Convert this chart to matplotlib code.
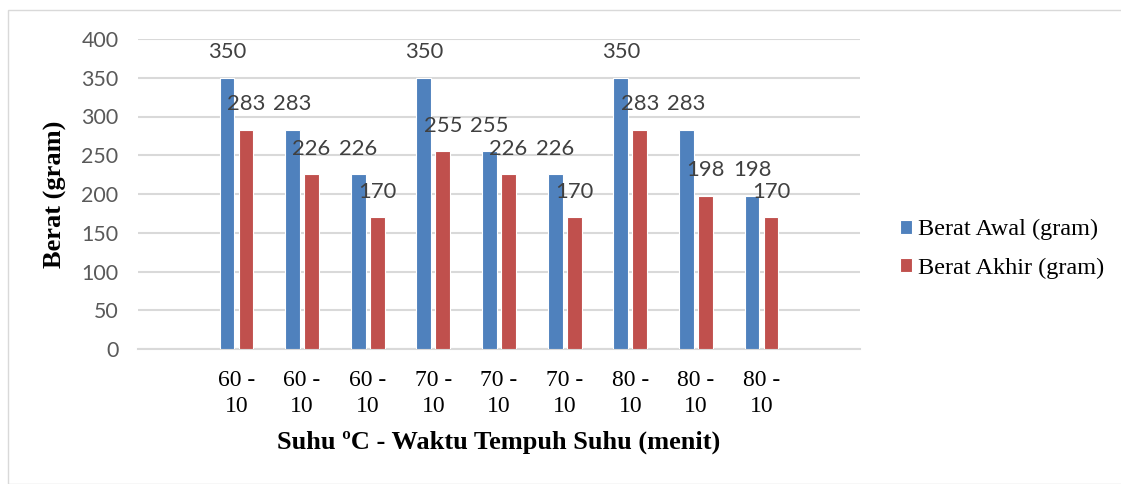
import matplotlib.pyplot as plt
import numpy as np
from matplotlib.patches import Rectangle

# slot 0 and slot 10 are empty categories in the original workbook
categories = ["", "60 -\n10", "60 -\n10", "60 -\n10", "70 -\n10", "70 -\n10",
              "70 -\n10", "80 -\n10", "80 -\n10", "80 -\n10", ""]
berat_awal = [np.nan, 350, 283, 226, 350, 255, 226, 350, 283, 198, np.nan]
berat_akhir = [np.nan, 283, 226, 170, 255, 226, 170, 283, 198, 170, np.nan]
series_names = ["Berat Awal (gram)", "Berat Akhir (gram)"]
yticks = [0, 50, 100, 150, 200, 250, 300, 350, 400]

BLUE = "#4F81BD"
RED = "#C0504D"
SANS = ["Lato", "DejaVu Sans"]
SERIF = ["Liberation Serif", "DejaVu Serif"]


def main() -> None:
    fig = plt.figure(figsize=(11.21, 4.84), dpi=100)
    fig.patches.append(Rectangle((8 / 1121, 0), 1.0, 1 - 10 / 484, transform=fig.transFigure,
                                 fill=False, edgecolor="#D9D9D9", linewidth=1.0))
    ax = fig.add_axes([138 / 1121, 1 - 349 / 484, 722 / 1121, 310 / 484])

    x = np.arange(len(categories))
    width = 0.225
    offset = 0.145
    for values, shift, color, name in ((berat_awal, -offset, BLUE, series_names[0]),
                                       (berat_akhir, offset, RED, series_names[1])):
        bars = ax.bar(x + shift, values, width, color=color, edgecolor="white",
                      linewidth=0.8, label=name, zorder=3)
        labels = ["" if np.isnan(v) else f"{v:.0f}" for v in values]
        ax.bar_label(bars, labels=labels, padding=11, fontsize=15.8, color="#404040",
                     family=SANS, zorder=4)

    ax.set_xlim(-0.5, len(categories) - 0.5)
    ax.set_ylim(0, 400)
    ax.set_yticks(yticks)
    ax.set_xticks(x)
    ax.set_xticklabels(categories, family=SERIF, fontsize=17, linespacing=1.32)
    ax.tick_params(axis="x", length=0, pad=15, colors="black")
    ax.tick_params(axis="y", length=0, pad=14, labelsize=15.4, labelcolor="#595959")
    for lab in ax.get_yticklabels():
        lab.set_family(SANS)

    ax.grid(axis="y", color="#D9D9D9", linewidth=1.5, zorder=0)
    for side in ("top", "right", "left"):
        ax.spines[side].set_visible(False)
    ax.spines["bottom"].set_color("#D9D9D9")
    ax.spines["bottom"].set_linewidth(1.5)

    ax.set_xlabel("Suhu ºC - Waktu Tempuh Suhu (menit)", family=SERIF, fontsize=19,
                  fontweight="bold", labelpad=10)
    ax.set_ylabel("Berat (gram)", family=SERIF, fontsize=19, fontweight="bold", labelpad=10)

    fig.legend(loc="center left", bbox_to_anchor=(900 / 1121, 1 - 249 / 484), frameon=False,
               prop={"family": SERIF, "size": 17.5}, handlelength=0.5, handleheight=0.5,
               handletextpad=0.22, labelspacing=0.72, borderaxespad=0, borderpad=0)

    fig.savefig("out.png", dpi=100, facecolor="white")


if __name__ == "__main__":
    main()
